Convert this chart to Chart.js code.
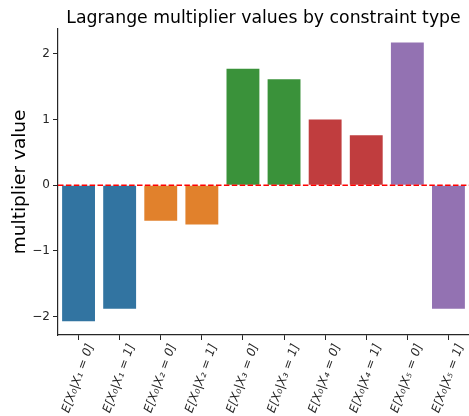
<!DOCTYPE html>
<html>
<head>
<meta charset="utf-8">
<script src="https://cdn.jsdelivr.net/npm/chart.js@4/dist/chart.umd.min.js"></script>
<style>
  html, body { margin: 0; padding: 0; background: #fff; }
  #wrap { width: 469px; height: 416px; }
</style>
</head>
<body>
<div id="wrap"><canvas id="myChart" width="469" height="416"></canvas></div>
<script>
const labels = [
  "E[X₀|X₁ = 0]", "E[X₀|X₁ = 1]",
  "E[X₀|X₂ = 0]", "E[X₀|X₂ = 1]",
  "E[X₀|X₃ = 0]", "E[X₀|X₃ = 1]",
  "E[X₀|X₄ = 0]", "E[X₀|X₄ = 1]",
  "E[X₀|X₅ = 0]", "E[X₀|X₅ = 1]",
];
const multipliers = [-2.07, -1.88, -0.54, -0.60, 1.77, 1.61, 1.00, 0.76, 2.17, -1.88];
const yTicks = [-2, -1, 0, 1, 2];

const palette = ["#3274a1", "#e1812c", "#3a923a", "#c03d3e", "#9372b2"];
const barColors = labels.map((_, i) => palette[Math.floor(i / 2)]);

Chart.defaults.font.family = "'DejaVu Sans', sans-serif";
Chart.defaults.color = "#262626";

// dashed red line at zero, drawn over the bars
const zeroLine = {
  id: "zeroLine",
  afterDatasetsDraw(chart) {
    const { ctx, chartArea, scales } = chart;
    const y = scales.y.getPixelForValue(0);
    ctx.save();
    ctx.strokeStyle = "#ff0000";
    ctx.lineWidth = 1.5;
    ctx.setLineDash([5.5, 2.4]);
    ctx.beginPath();
    ctx.moveTo(chartArea.left, y);
    ctx.lineTo(chartArea.right, y);
    ctx.stroke();
    ctx.restore();
  },
};

const config = {
  type: "bar",
  data: {
    labels,
    datasets: [
      {
        data: multipliers,
        backgroundColor: barColors,
        borderWidth: 0,
        barPercentage: 0.8,
        categoryPercentage: 1.0,
      },
    ],
  },
  options: {
    responsive: false,
    animation: false,
    layout: { padding: 0 },
    plugins: {
      legend: { display: false },
      tooltip: { enabled: false },
      title: {
        display: true,
        text: "Lagrange multiplier values by constraint type",
        fullSize: false,
        color: "#000",
        font: { size: 17.3, weight: "normal" },
        padding: { top: 8, bottom: 0 },
      },
    },
    scales: {
      x: {
        offset: true,
        grid: {
          drawOnChartArea: false,
          tickLength: 5,
          tickColor: "#262626",
          offset: false,
        },
        border: { color: "#262626", width: 1.2 },
        ticks: {
          autoSkip: false,
          minRotation: 70,
          maxRotation: 70,
          padding: 2,
          labelOffset: 12,
          font: { size: 12, style: "italic" },
        },
        afterFit(scale) {
          scale.height = 81;
        },
      },
      y: {
        min: -2.28,
        max: 2.38,
        grid: {
          drawOnChartArea: false,
          tickLength: 5,
          tickColor: "#262626",
        },
        border: { color: "#262626", width: 1.2 },
        afterBuildTicks(scale) {
          scale.ticks = yTicks.map((v) => ({ value: v }));
        },
        ticks: {
          padding: 3,
          font: { size: 12 },
          callback: (v) => (v < 0 ? "\u2212" + Math.abs(v) : String(v)),
        },
        title: {
          display: true,
          text: "multiplier value",
          color: "#000",
          font: { size: 18.5 },
          padding: { top: 9, bottom: 4 },
        },
        afterFit(scale) {
          scale.width = 58;
        },
      },
    },
  },
  plugins: [zeroLine],
};

const ctx = document.getElementById("myChart").getContext("2d");
new Chart(ctx, config);
</script>
</body>
</html>
